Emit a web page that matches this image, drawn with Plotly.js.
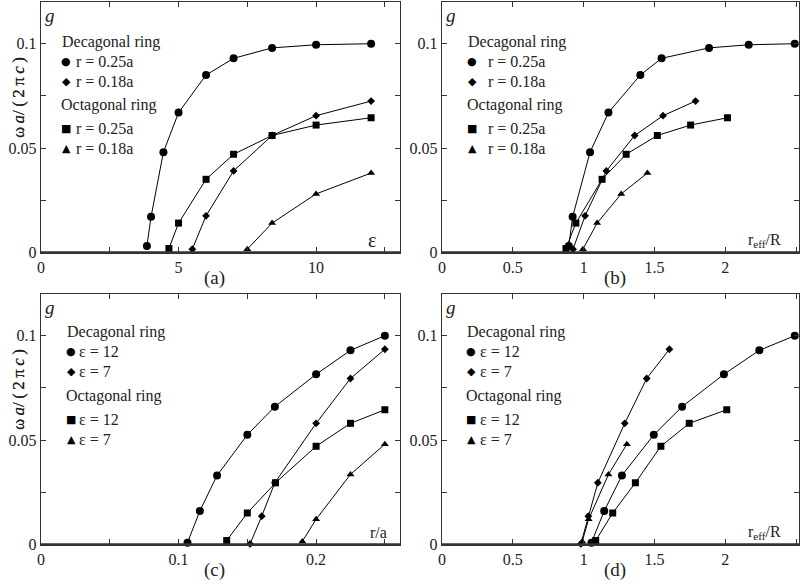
<!DOCTYPE html>
<html><head><meta charset="utf-8">
<script src="https://cdn.plot.ly/plotly-3.0.1.min.js"></script>
<style>html,body{margin:0;padding:0;background:#fff}#chart{width:802px;height:584px}</style>
</head><body><div id="chart"></div>
<script>
// ---- shared gap values (ωa/2πc) ----
const yDec25 = [0.003, 0.017, 0.048, 0.067, 0.085, 0.093, 0.098, 0.0995, 0.1];
const yDec18 = [0.0015, 0.0175, 0.039, 0.056, 0.0655, 0.0725];
const yOct25 = [0.0018, 0.014, 0.035, 0.047, 0.056, 0.061, 0.0645];
const yOct18 = [0.0015, 0.014, 0.028, 0.038];
// panel (a): x = epsilon
const aDec25 = [3.85, 4.0, 4.45, 5, 6, 7, 8.4, 10, 12];
const aDec18 = [5.5, 6, 7, 8.4, 10, 12];
const aOct25 = [4.65, 5, 6, 7, 8.4, 10, 12];
const aOct18 = [7.5, 8.4, 10, 12];
// panel (b): x = r_eff/R
const bDec25 = [0.895, 0.922, 1.045, 1.175, 1.4, 1.55, 1.885, 2.165, 2.49];
const bDec18 = [0.925, 1.01, 1.16, 1.36, 1.56, 1.79];
const bOct25 = [0.875, 0.945, 1.13, 1.3, 1.52, 1.755, 2.015];
const bOct18 = [0.995, 1.095, 1.265, 1.45];
// panels (c),(d) gap values
const yDec12 = [0.0008, 0.016, 0.033, 0.0525, 0.066, 0.0815, 0.093, 0.1];
const yDec7 = [0.0002, 0.0135, 0.0295, 0.058, 0.0795, 0.0935];
const yOct12 = [0.0018, 0.015, 0.0295, 0.047, 0.058, 0.0645];
const yOct7 = [0.0014, 0.012, 0.0335, 0.048];
// panel (c): x = r/a
const cDec12 = [0.1065, 0.1155, 0.128, 0.15, 0.17, 0.2, 0.225, 0.25];
const cDec7 = [0.152, 0.1605, 0.17, 0.2, 0.225, 0.25];
const cOct12 = [0.135, 0.15, 0.1705, 0.2, 0.225, 0.25];
const cOct7 = [0.19, 0.2, 0.225, 0.25];
// panel (d): x = r_eff/R
const dDec12 = [1.055, 1.145, 1.27, 1.495, 1.695, 1.99, 2.24, 2.49];
const dDec7 = [0.98, 1.033, 1.1, 1.29, 1.445, 1.605];
const dOct12 = [1.085, 1.205, 1.365, 1.545, 1.745, 2.01];
const dOct7 = [0.99, 1.035, 1.175, 1.305];

const legTop = ['Decagonal ring', 'r = 0.25a', 'r = 0.18a', 'Octagonal ring', 'r = 0.25a', 'r = 0.18a'];
const legBot = ['Decagonal ring', 'ε = 12', 'ε = 7', 'Octagonal ring', 'ε = 12', 'ε = 7'];
const panelLabels = ['(a)', '(b)', '(c)', '(d)'];
const xLabels = ['ε', 'r<sub>eff</sub>/R', 'r/a', 'r<sub>eff</sub>/R'];
const yTitle = 'ω\u2009<i>a</i>/\u2009(\u20092\u2009π\u2009<i>c</i>\u2009)';

const W = 802, H = 584;
const FONT = '"Liberation Serif", "Times New Roman", Times, serif';
const SYM = {circle: {s: 'circle', z: 8}, diamond: {s: 'diamond', z: 6}, square: {s: 'square', z: 7}, tri: {s: 'triangle-up', z: 7}};

function tr(x, y, sym, k) {
  return {x: x, y: y, xaxis: 'x' + (k === 1 ? '' : k), yaxis: 'y' + (k === 1 ? '' : k),
    mode: 'lines+markers', type: 'scatter', showlegend: false, cliponaxis: false,
    line: {color: '#000', width: 1}, marker: {symbol: SYM[sym].s, size: SYM[sym].z, color: '#000'}};
}
const data = [
  tr(aDec25, yDec25, 'circle', 1), tr(aDec18, yDec18, 'diamond', 1), tr(aOct25, yOct25, 'square', 1), tr(aOct18, yOct18, 'tri', 1),
  tr(bDec25, yDec25, 'circle', 2), tr(bDec18, yDec18, 'diamond', 2), tr(bOct25, yOct25, 'square', 2), tr(bOct18, yOct18, 'tri', 2),
  tr(cDec12, yDec12, 'circle', 3), tr(cDec7, yDec7, 'diamond', 3), tr(cOct12, yOct12, 'square', 3), tr(cOct7, yOct7, 'tri', 3),
  tr(dDec12, yDec12, 'circle', 4), tr(dDec7, yDec7, 'diamond', 4), tr(dOct12, yOct12, 'square', 4), tr(dOct7, yOct7, 'tri', 4)
];

const px = v => v / W, py = v => 1 - v / H;
// panel boxes in pixels: [left, right, top, bottom]
const boxes = [[41, 400, 2, 252.3], [442, 799, 2, 252.3], [41, 400, 294, 544.3], [442, 799, 294, 544.3]];
const xr = [[0, 13.05], [0, 2.52], [0, 0.261], [0, 2.52]];
const xd = [5, 0.5, 0.1, 0.5];
const xm = [2.5, null, 0.05, null];

const base = {showline: true, linecolor: '#333', linewidth: 1.3, mirror: 'allticks', ticks: 'inside', ticklen: 5,
  tickwidth: 1, tickcolor: '#333', showgrid: false, zeroline: false,
  tickfont: {family: FONT, size: 16, color: '#222'}};

const layout = {width: W, height: H, margin: {l: 0, r: 0, t: 0, b: 0}, paper_bgcolor: '#fff', plot_bgcolor: '#fff',
  showlegend: false, annotations: [], shapes: [], font: {family: FONT, size: 16, color: '#222'}};

boxes.forEach((b, i) => {
  const k = i + 1, sx = k === 1 ? '' : k;
  const xa = Object.assign({}, base, {domain: [px(b[0]), px(b[1])], range: xr[i], tick0: 0, dtick: xd[i], anchor: 'y' + sx});
  if (xm[i]) xa.minor = {dtick: xm[i], tick0: 0, ticks: 'inside', ticklen: 5, tickcolor: '#333', tickwidth: 1};
  const ya = Object.assign({}, base, {domain: [py(b[3]), py(b[2])], range: [0, 0.12], tick0: 0, dtick: 0.05, anchor: 'x' + sx,
    minor: {dtick: 0.025, tick0: 0, ticks: 'inside', ticklen: 5, tickcolor: '#333', tickwidth: 1}});
  layout['xaxis' + sx] = xa;
  layout['yaxis' + sx] = ya;
  // heavier bottom axis line
  layout.shapes.push({type: 'line', xref: 'x' + sx + ' domain', yref: 'y' + sx + ' domain', x0: 0, x1: 1, y0: 0, y1: 0,
    line: {color: '#333', width: 2.2}});
  const ann = (x, y, text, o) => layout.annotations.push(Object.assign({xref: 'paper', yref: 'paper', x: px(x), y: py(y),
    text: text, showarrow: false, font: {family: FONT, size: 16, color: '#222'}, xanchor: 'left', yanchor: 'middle'}, o || {}));
  const top = b[2];
  // y title
  ann(18, top + 96, yTitle, {textangle: -90, xanchor: 'center', font: {family: FONT, size: 17, color: '#222'}});
  // g label
  ann(b[0] + 9, top + 13, '<i>g</i>', {xanchor: 'center', font: {family: FONT, size: 19, color: '#222'}});
  // x-axis label inside
  ann(i === 0 ? 372 : (i === 2 ? 378 : 764), b[3] - 12, xLabels[i], {xanchor: 'center', font: {family: FONT, size: i === 0 ? 20 : 16, color: '#222'}});
  // panel label
  ann((b[0] + b[1]) / 2 - 6, b[3] + 26, panelLabels[i], {xanchor: 'center', font: {family: FONT, size: 19, color: '#222'}});
  // legend
  const leg = i < 2 ? legTop : legBot;
  const rows = i < 2 ? [40, 59.5, 79, 102.5, 126, 146.5] : [37.5, 57.5, 77, 102, 125, 145];
  const hx = i === 0 ? 60 : (i === 1 ? 466 : (i === 2 ? 65 : 465));
  const symx = hx + 6;
  const txtx = i === 0 ? 74 : (i === 1 ? 486 : (i === 2 ? 77 : 478));
  const glyph = ['', '●', '◆', '', '■', '▲'];
  leg.forEach((t, j) => {
    if (glyph[j] === '') {
      ann(j === 3 ? hx - 1 : hx, top + rows[j], t);
    } else {
      ann(symx, top + rows[j], glyph[j], {xanchor: 'center', font: {family: 'DejaVu Sans', size: 11, color: '#000'}});
      ann(txtx, top + rows[j], t);
    }
  });
});

Plotly.newPlot('chart', data, layout, {displayModeBar: false, staticPlot: true});
</script></body></html>
